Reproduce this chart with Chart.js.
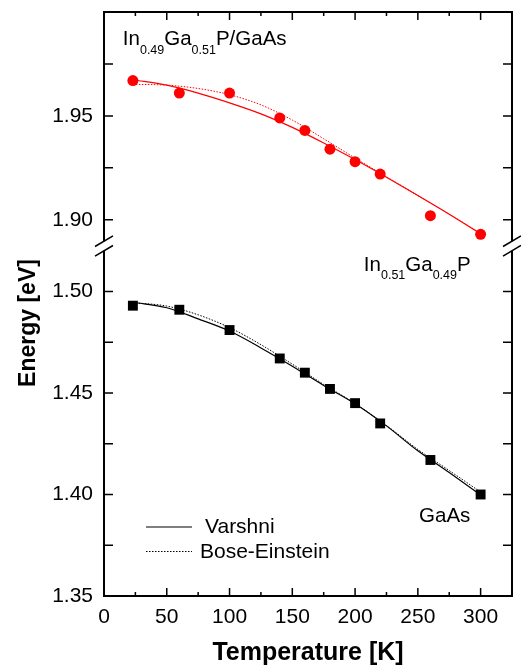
<!DOCTYPE html>
<html>
<head>
<meta charset="utf-8">
<script src="https://cdn.jsdelivr.net/npm/chart.js@4.4.0/dist/chart.umd.min.js"></script>
<style>
  html, body { margin: 0; padding: 0; background: #fff; }
</style>
</head>
<body>
<canvas id="bandChart" width="521" height="667"></canvas>
<script>
// measured band gap points (K, eV)
const temps = [23, 60, 100, 140, 160, 180, 200, 220, 260, 300];
const ingapEnergy = [1.967, 1.961, 1.961, 1.949, 1.943, 1.934, 1.928, 1.922, 1.902, 1.893];
const gaasEnergy = [1.493, 1.491, 1.481, 1.467, 1.460, 1.452, 1.445, 1.435, 1.417, 1.400];

// fit curves
const fitTemps = [23, 50, 75, 100, 125, 150, 175, 200, 225, 250, 275, 300];
const ingapVarshni = [1.9674, 1.9648, 1.9610, 1.9563, 1.9510, 1.9445, 1.9370, 1.9290, 1.9205, 1.9117, 1.9027, 1.8933];
const ingapBose = [1.9652, 1.9648, 1.9632, 1.9602, 1.9553, 1.9480, 1.9390, 1.9297, 1.9207, 1.9117, 1.9027, 1.8935];
const gaasVarshni = [1.4947, 1.4920, 1.4865, 1.4805, 1.4722, 1.4632, 1.4537, 1.4447, 1.4338, 1.4215, 1.4108, 1.3998];
const gaasBose = [1.4945, 1.4928, 1.4885, 1.4822, 1.4738, 1.4642, 1.4542, 1.4448, 1.4340, 1.4222, 1.4118, 1.4012];

// axis ticks
const xTicks = [0, 50, 100, 150, 200, 250, 300];
const xMinor = [25, 75, 125, 175, 225, 275];
const topTicks = [1.90, 1.95];
const topMinor = [1.925, 1.975];
const bottomTicks = [1.35, 1.40, 1.45, 1.50];
const bottomMinor = [1.375, 1.425, 1.475];

const FONT = '"Liberation Sans", Arial, sans-serif';
const RED = '#ff0000';

function pts(xs, ys) { return xs.map((x, i) => ({x: x, y: ys[i]})); }

// text with subscripts: parts = [[text, isSub], ...]
function subText(ctx, parts, x, y, size, subSize, drop) {
  ctx.textAlign = 'left';
  ctx.textBaseline = 'alphabetic';
  for (const [t, sub] of parts) {
    ctx.font = (sub ? subSize : size) + 'px ' + FONT;
    ctx.fillText(t, x, sub ? y + drop : y);
    x += ctx.measureText(t).width;
  }
}

function noPad(s) {
  s.paddingTop = 0; s.paddingBottom = 0;
  s.paddingLeft = 0; s.paddingRight = 0;
}

const frame = {
  id: 'frame',
  afterDatasetsDraw(chart) {
    const {ctx, chartArea: a, scales} = chart;
    const xs = scales.x, yt = scales.yTop, yb = scales.yBot;
    const mid = yt.bottom;
    const g = 4.8;
    ctx.save();
    ctx.strokeStyle = '#000';
    ctx.lineWidth = 2;
    ctx.beginPath();
    ctx.moveTo(a.left - 1, a.top); ctx.lineTo(a.right + 1, a.top);
    ctx.moveTo(a.left - 1, a.bottom); ctx.lineTo(a.right + 1, a.bottom);
    for (const s of [a.left, a.right]) {
      ctx.moveTo(s, a.top); ctx.lineTo(s, mid - g);
      ctx.moveTo(s, mid + g); ctx.lineTo(s, a.bottom);
    }
    ctx.stroke();

    // inward ticks
    ctx.lineWidth = 1.5;
    ctx.beginPath();
    const xt = (vals, len) => vals.forEach(v => {
      const p = xs.getPixelForValue(v);
      ctx.moveTo(p, a.bottom); ctx.lineTo(p, a.bottom - len);
      ctx.moveTo(p, a.top); ctx.lineTo(p, a.top + len);
    });
    const yt2 = (sc, vals, len) => vals.forEach(v => {
      const p = sc.getPixelForValue(v);
      ctx.moveTo(a.left, p); ctx.lineTo(a.left + len, p);
      ctx.moveTo(a.right, p); ctx.lineTo(a.right - len, p);
    });
    xt(xTicks, 8); xt(xMinor, 4);
    yt2(yt, topTicks, 9); yt2(yt, topMinor, 9);
    yt2(yb, bottomTicks, 9); yt2(yb, bottomMinor, 9);
    ctx.stroke();

    // axis break marks
    ctx.beginPath();
    for (const s of [a.left, a.right]) {
      for (const c of [mid - g, mid + g]) {
        ctx.moveTo(s - 9, c + 5.3); ctx.lineTo(s + 9, c - 5.3);
      }
    }
    ctx.stroke();

    // y title
    ctx.fillStyle = '#000';
    ctx.save();
    ctx.translate(35, 323);
    ctx.rotate(-Math.PI / 2);
    ctx.font = 'bold 23px ' + FONT;
    ctx.textAlign = 'center';
    ctx.textBaseline = 'alphabetic';
    ctx.fillText('Energy [eV]', 0, 0);
    ctx.restore();

    // labels
    subText(ctx, [['In', 0], ['0.49', 1], ['Ga', 0], ['0.51', 1], ['P/GaAs', 0]],
      xs.getPixelForValue(15), yt.getPixelForValue(1.984), 20.5, 12.5, 9);
    subText(ctx, [['In', 0], ['0.51', 1], ['Ga', 0], ['0.49', 1], ['P', 0]],
      xs.getPixelForValue(207), yb.getPixelForValue(1.5103), 20.5, 12.5, 8);
    subText(ctx, [['GaAs', 0]], xs.getPixelForValue(251), yb.getPixelForValue(1.3864), 20.5, 12, 0);

    // legend
    ctx.strokeStyle = '#000';
    ctx.lineWidth = 1.2;
    ctx.beginPath();
    ctx.moveTo(146, 527); ctx.lineTo(192, 527);
    ctx.stroke();
    ctx.setLineDash([1.5, 1.5]);
    ctx.lineWidth = 1;
    ctx.beginPath();
    ctx.moveTo(146, 551.5); ctx.lineTo(192, 551.5);
    ctx.stroke();
    ctx.setLineDash([]);
    ctx.font = '21px ' + FONT;
    ctx.textBaseline = 'middle';
    ctx.textAlign = 'left';
    ctx.fillText('Varshni', 205, 527);
    ctx.fillText('Bose-Einstein', 200, 552);
    ctx.restore();
  }
};

const tickFont = {family: FONT, size: 21};
const noGrid = {display: false, drawTicks: false};

new Chart(document.getElementById('bandChart'), {
  type: 'scatter',
  data: {
    datasets: [
      {data: pts(temps, ingapEnergy), yAxisID: 'yTop', pointStyle: 'circle', pointRadius: 5.5,
        backgroundColor: RED, borderColor: RED, borderWidth: 0},
      {data: pts(temps, gaasEnergy), yAxisID: 'yBot', pointStyle: 'rect', pointRadius: 7,
        backgroundColor: '#000', borderColor: '#000', borderWidth: 0},
      {data: pts(fitTemps, ingapVarshni), yAxisID: 'yTop', showLine: true, pointRadius: 0,
        borderColor: RED, borderWidth: 1.2, cubicInterpolationMode: 'monotone'},
      {data: pts(fitTemps, ingapBose), yAxisID: 'yTop', showLine: true, pointRadius: 0,
        borderColor: RED, borderWidth: 1, borderDash: [1.5, 1.5], cubicInterpolationMode: 'monotone'},
      {data: pts(fitTemps, gaasVarshni), yAxisID: 'yBot', showLine: true, pointRadius: 0,
        borderColor: '#000', borderWidth: 1.2, cubicInterpolationMode: 'monotone'},
      {data: pts(fitTemps, gaasBose), yAxisID: 'yBot', showLine: true, pointRadius: 0,
        borderColor: '#000', borderWidth: 1, borderDash: [1.5, 1.5], cubicInterpolationMode: 'monotone'}
    ]
  },
  options: {
    responsive: false,
    animation: false,
    layout: {padding: {top: 12, right: 9, left: 0, bottom: 0}},
    plugins: {legend: {display: false}, tooltip: {enabled: false}},
    scales: {
      x: {
        type: 'linear', min: 0, max: 325,
        afterBuildTicks: s => { s.ticks = xTicks.map(v => ({value: v})); },
        afterFit: s => { s.height = 71; noPad(s); },
        grid: noGrid, border: {display: false},
        ticks: {font: tickFont, color: '#000', padding: 9, maxRotation: 0},
        title: {display: true, text: 'Temperature [K]', color: '#000',
          font: {family: FONT, size: 25, weight: 'bold', lineHeight: 1.1}, padding: {top: 0, bottom: 0}}
      },
      yTop: {
        type: 'linear', position: 'left', stack: 'energy', stackWeight: 234, weight: 1,
        min: 1.8874, max: 2.0,
        afterBuildTicks: s => { s.ticks = topTicks.map(v => ({value: v})); },
        afterFit: s => { s.width = 104; noPad(s); },
        grid: noGrid, border: {display: false},
        ticks: {font: tickFont, color: '#000', padding: 11, callback: v => v.toFixed(2)}
      },
      yBot: {
        type: 'linear', position: 'left', stack: 'energy', stackWeight: 350, weight: 0,
        min: 1.35, max: 1.5224,
        afterBuildTicks: s => { s.ticks = bottomTicks.map(v => ({value: v})); },
        afterFit: s => { s.width = 104; noPad(s); },
        grid: noGrid, border: {display: false},
        ticks: {font: tickFont, color: '#000', padding: 11, callback: v => v.toFixed(2)}
      }
    }
  },
  plugins: [frame]
});
</script>
</body>
</html>
